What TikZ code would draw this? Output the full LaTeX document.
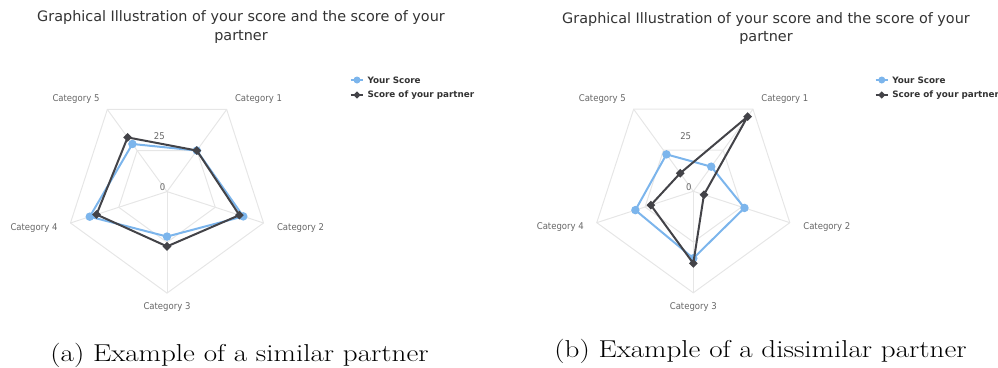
\documentclass[tikz,border=0pt]{standalone}
\usepackage{fontspec}
\newfontfamily\hcfont{DejaVu Sans}
\usetikzlibrary{shapes.geometric,calc}
\definecolor{hcblue}{HTML}{7CB5EC}
\definecolor{hcdark}{HTML}{434348}
\definecolor{hcgrid}{HTML}{E6E6E6}
\definecolor{hclabel}{HTML}{666666}
\definecolor{hctitle}{HTML}{333333}
\tikzset{
 gridline/.style={draw=hcgrid, line width=1pt},
 blueline/.style={draw=hcblue, line width=2pt, line join=round},
 darkline/.style={draw=hcdark, line width=2pt, line join=round},
 bluemark/.style={circle, fill=hcblue, inner sep=0pt, minimum size=8.5pt},
 darkmark/.style={diamond, fill=hcdark, inner sep=0pt, minimum size=9pt},
 catlabel/.style={font=\hcfont\fontsize{9.3}{10}\selectfont, text=hclabel, inner sep=0pt, xscale=0.915},
 axlabel/.style={font=\hcfont\fontsize{9.3}{10}\selectfont, text=hclabel, inner sep=0pt, anchor=east, xscale=0.915},
 titletext/.style={font=\hcfont\fontsize{14.4}{18.5}\selectfont, text=hctitle, align=center, inner sep=0pt},
 legtext/.style={font=\hcfont\bfseries\fontsize{8.8}{10}\selectfont, text=hctitle, anchor=west, inner sep=0pt},
 captext/.style={font=\fontsize{24.4}{28}\selectfont, inner sep=0pt, anchor=base, xscale=1.19},
}
% #1 prefix, #2 centre, #3 blue radii, #4 dark radii (fractions of the outer ring)
\newcommand\radarchart[4]{%
\begin{scope}[shift={#2}, x=1pt, y=1pt]
 \coordinate (#1-o) at (0,0);
 \foreach \i in {1,...,5} {
   \pgfmathsetmacro\ang{126-72*\i}
   \coordinate (#1-v\i) at (\ang:101.5);
   \coordinate (#1-h\i) at (\ang:50.75);
 }
 \draw[gridline] (#1-h1) -- (#1-h2) -- (#1-h3) -- (#1-h4) -- (#1-h5) -- cycle;
 \draw[gridline] (#1-v1) -- (#1-v2) -- (#1-v3) -- (#1-v4) -- (#1-v5) -- cycle;
 \foreach \i in {1,...,5} \draw[gridline] (#1-o) -- (#1-v\i);
 \node[axlabel] (#1-zero) at (-1.5,4) {0};
 \node[axlabel] (#1-tf) at (-2,55.5) {25};
 \node[catlabel] (#1-c1) at (91.5,92.2) {Category 1};
 \node[catlabel] (#1-c2) at (133.5,-36) {Category 2};
 \node[catlabel] (#1-c3) at (0,-115.5) {Category 3};
 \node[catlabel] (#1-c4) at (-133,-36) {Category 4};
 \node[catlabel] (#1-c5) at (-91,92.2) {Category 5};
 \foreach \r [count=\i] in {#3} {
   \pgfmathsetmacro\ang{126-72*\i}
   \coordinate (#1-b\i) at (\ang:{\r*101.5});
 }
 \foreach \r [count=\i] in {#4} {
   \pgfmathsetmacro\ang{126-72*\i}
   \coordinate (#1-d\i) at (\ang:{\r*101.5});
 }
 \draw[blueline] (#1-b1) -- (#1-b2) -- (#1-b3) -- (#1-b4) -- (#1-b5) -- cycle;
 \foreach \i in {1,...,5} \node[bluemark] (#1-bm\i) at (#1-b\i) {};
 \draw[darkline] (#1-d1) -- (#1-d2) -- (#1-d3) -- (#1-d4) -- (#1-d5) -- cycle;
 \foreach \i in {1,...,5} \node[darkmark] (#1-dm\i) at (#1-d\i) {};
\end{scope}}
% legend: #1 prefix, #2 x of line start, #3 y of first row
\newcommand\radarlegend[3]{%
 \coordinate (#1-la) at (#2,#3);
 \coordinate (#1-lb) at (#2+12.6,#3);
 \coordinate (#1-lc) at (#2,#3+15);
 \coordinate (#1-ld) at (#2+12.6,#3+15);
 \draw[draw=hcblue, line width=2pt] (#1-la) -- (#1-lb);
 \node[bluemark, minimum size=7pt] (#1-lbm) at ($(#1-la)!0.5!(#1-lb)$) {};
 \node[legtext] (#1-lbt) at (#2+16.6,#3) {Your Score};
 \draw[draw=hcdark, line width=2pt] (#1-lc) -- (#1-ld);
 \node[darkmark, minimum size=7.5pt] (#1-ldm) at ($(#1-lc)!0.5!(#1-ld)$) {};
 \node[legtext] (#1-ldt) at (#2+16.6,#3+15) {Score of your partner};
}
\begin{document}
\begin{tikzpicture}[x=1pt,y=-1pt]
 \useasboundingbox (0,0) rectangle (998,367);
 \node[titletext] (ta) at (241,27) {Graphical Illustration of your score and the score of your\\partner};
 \node[titletext] (tb) at (766,28.5) {Graphical Illustration of your score and the score of your\\partner};
 \radarchart{a}{(167,191.6)}{0.5,0.79,0.443,0.8,0.58}{0.5,0.75,0.54,0.73,0.66}
 \radarchart{b}{(693.3,191.3)}{0.3,0.53,0.66,0.6,0.45}{0.91,0.11,0.71,0.44,0.22}
 \radarlegend{la}{350.7}{80}
 \radarlegend{lb}{875.5}{80}
 \node[captext] (capa) at (239.5,361) {(a) Example of a similar partner};
 \node[captext] (capb) at (760.5,357) {(b) Example of a dissimilar partner};
\end{tikzpicture}
\end{document}
